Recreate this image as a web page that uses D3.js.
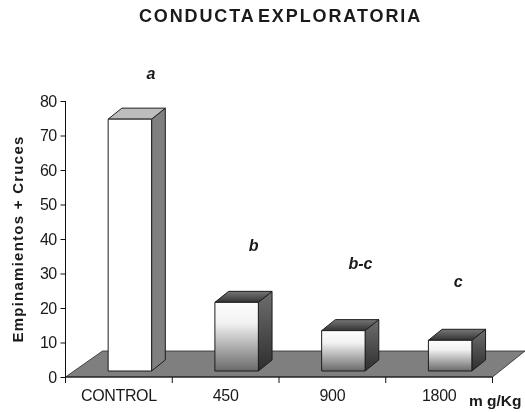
<!DOCTYPE html>
<html><head><meta charset="utf-8">
<script src="https://cdn.jsdelivr.net/npm/d3@7"></script>
<style>
html,body{margin:0;padding:0;background:#fff}
svg{display:block;filter:blur(0.45px)}
text{font-family:"Liberation Sans",Arial,sans-serif;fill:#1a1a1a}
</style></head><body>
<div id="chart"></div>
<script>
const categories = ["CONTROL","450","900","1800"];
const values = [73, 19.9, 11.7, 8.9];
const letters = ["a","b","b-c","c"];
const yTicks = [0,10,20,30,40,50,60,70,80];

const W=525,H=412;
const svg=d3.select("#chart").append("svg").attr("width",W).attr("height",H);
const y=d3.scaleLinear().domain([0,80]).range([377,101]);
const x=d3.scaleBand().domain(categories).range([65.5,492.5]).paddingInner(0.593).paddingOuter(0.2965);
const barShift=11, dx=13.7, dy=11, floorLift=6;

const defs=svg.append("defs");
function grad(id,stops){
  const g=defs.append("linearGradient").attr("id",id).attr("x1",0).attr("y1",0).attr("x2",0).attr("y2",1);
  stops.forEach(s=>g.append("stop").attr("offset",s[0]).attr("stop-color",s[1]));
}
grad("front",[[0,"#fdfdfd"],[0.3,"#f2f2f2"],[1,"#6a6a6a"]]);
grad("topV",[[0,"#777"],[1,"#333"]]);
grad("side",[[0,"#6e6e6e"],[1,"#2e2e2e"]]);

// title
svg.append("text").attr("x",280.5).attr("y",21.5).attr("text-anchor","middle")
  .attr("font-size",18).attr("font-weight","bold").attr("letter-spacing",1.9).attr("word-spacing",-4).text("CONDUCTA EXPLORATORIA");

// floor
const x0=x.range()[0],x1=x.range()[1],y0=y(0);
svg.append("polygon")
  .attr("points",[[x0,y0],[x0+37,y0-26],[x1+32.5,y0-26],[x1,y0]].join(" "))
  .attr("fill","#7f7f7f").attr("stroke","#2a2a2a").attr("stroke-width",0.8);

// bars
const bars=svg.selectAll("g.bar").data(categories.map((c,i)=>({c,v:values[i],i}))).join("g").attr("class","bar");
const L=d=>x(d.c)+barShift, R=d=>L(d)+x.bandwidth(), T=d=>y(d.v)-floorLift, B=()=>y(0)-floorLift;
function applyEdge(s){s.attr("stroke","#1c1c1c").attr("stroke-width",1).attr("stroke-linejoin","round")}
bars.append("polygon").attr("points",d=>[[R(d),T(d)],[R(d)+dx,T(d)-dy],[R(d)+dx,B()-dy],[R(d),B()]].join(" "))
  .attr("fill",d=>d.i===0?"#808080":"url(#side)").call(applyEdge);
bars.append("polygon").attr("points",d=>[[L(d),T(d)],[L(d)+dx,T(d)-dy],[R(d)+dx,T(d)-dy],[R(d),T(d)]].join(" "))
  .attr("fill",d=>d.i===0?"#bdbdbd":"url(#topV)").call(applyEdge);
bars.append("rect").attr("x",L).attr("y",T).attr("width",x.bandwidth()).attr("height",d=>B()-T(d))
  .attr("fill",d=>d.i===0?"#fff":"url(#front)").call(applyEdge);

// y axis
const gy=svg.append("g").attr("transform","translate(65.5,0)")
  .call(d3.axisLeft(y).tickValues(yTicks).tickSize(5).tickPadding(4));
gy.selectAll("text").attr("font-size",16).attr("letter-spacing",-0.7).style("font-family",'"Liberation Sans",Arial,sans-serif');
gy.selectAll("line,path").attr("stroke","#111");
gy.select("path").attr("d",`M0,${y(80)}H0V${y(0)}`);

// x axis
const gx=svg.append("g").attr("transform",`translate(0,${y0})`)
  .call(d3.axisBottom(x).tickSize(0).tickPadding(13));
gx.select("path").attr("stroke","#111").attr("d",`M${x0},0H${x1}`);
gx.selectAll("text").attr("font-size",16).attr("letter-spacing",-0.35).style("font-family",'"Liberation Sans",Arial,sans-serif');
const step=x.step();
gx.selectAll("line.edge").data(d3.range(categories.length+1)).join("line").attr("class","edge")
  .attr("x1",i=>x0+i*step).attr("x2",i=>x0+i*step).attr("y1",0).attr("y2",6).attr("stroke","#111");

// axis titles
svg.append("text").attr("transform","translate(23,239) rotate(-90)").attr("text-anchor","middle")
  .attr("font-size",15).attr("font-weight","bold").attr("letter-spacing",1.25).text("Empinamientos + Cruces");
svg.append("text").attr("x",469).attr("y",405.5).attr("font-size",15.5).attr("font-weight","bold").text("m g/Kg");

// significance letters
svg.selectAll("text.sig").data(letters).join("text").attr("class","sig")
  .attr("x",(d,i)=>x(categories[i])+x.bandwidth()/2+[32,28,28,19][i])
  .attr("y",(d,i)=>[79,251,269,287][i])
  .attr("text-anchor","middle").attr("font-size",16).attr("font-weight","bold").attr("font-style","italic").text(d=>d);
</script></body></html>
